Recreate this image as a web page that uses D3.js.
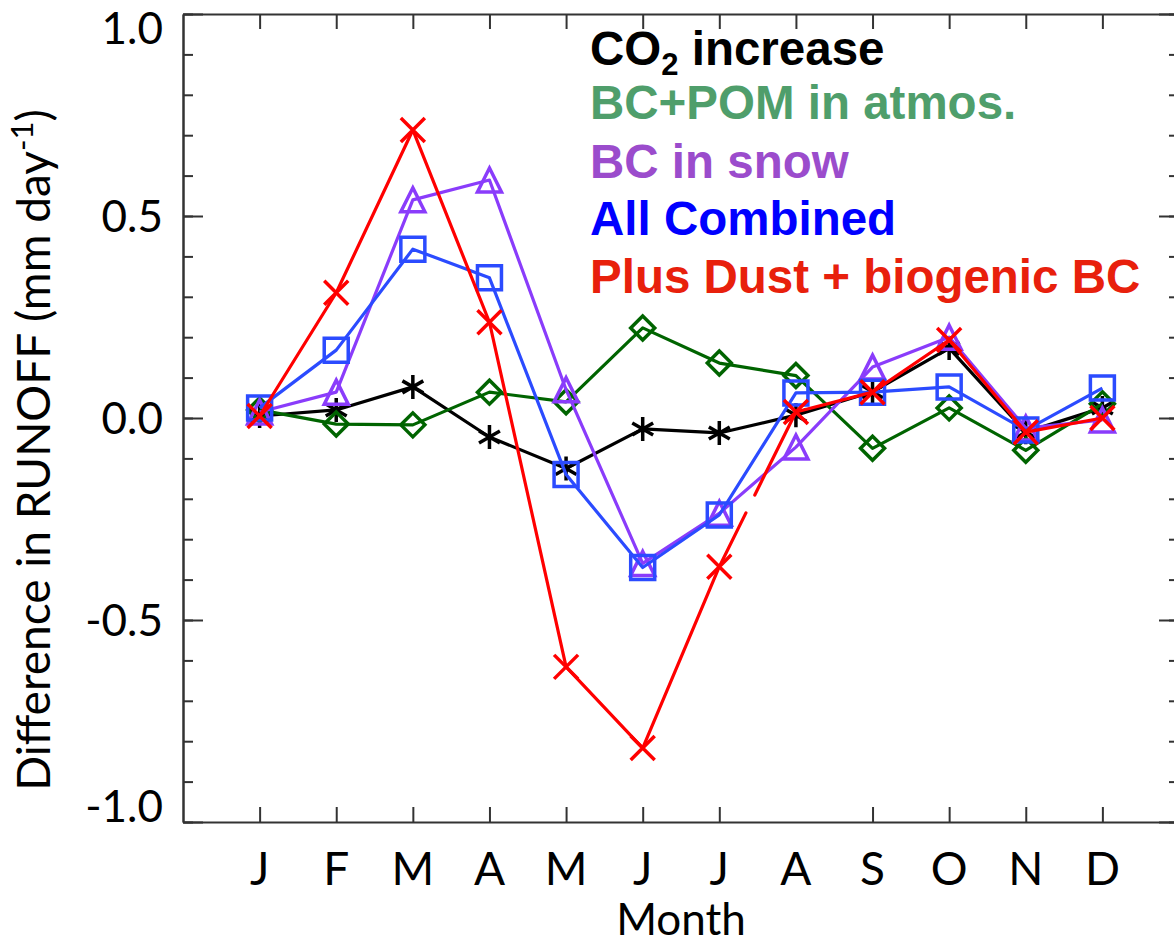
<!DOCTYPE html>
<html>
<head>
<meta charset="utf-8">
<script src="https://cdn.jsdelivr.net/npm/d3@7"></script>
<style>
  body { margin: 0; background: #fff; }
  .lab { font-family: Lato, "Open Sans", sans-serif; fill: #000; }
  .leg { font-family: "Liberation Sans", Arial, sans-serif; font-weight: bold; }
</style>
</head>
<body>
<div id="chart"></div>
<script>
// chart values
var months = ["J", "F", "M", "A", "M", "J", "J", "A", "S", "O", "N", "D"];
var co2 = [0.005, 0.02, 0.077, -0.047, -0.125, -0.027, -0.037, 0.007, 0.065, 0.173, -0.035, 0.025];
var bcpom = [0.02, -0.015, -0.017, 0.064, 0.04, 0.223, 0.136, 0.105, -0.075, 0.025, -0.08, 0.035];
var snow = [0.015, 0.064, 0.54, 0.589, 0.07, -0.36, -0.236, -0.072, 0.126, 0.2, -0.025, -0.005];
var combined = [0.025, 0.168, 0.418, 0.347, -0.14, -0.37, -0.24, 0.062, 0.064, 0.077, -0.03, 0.074];
var dust = [0.005, 0.31, 0.713, 0.237, -0.616, -0.817, -0.368, 0.015, 0.064, 0.193, -0.035, 0.0];
var legendNames = ["CO2 increase", "BC+POM in atmos.", "BC in snow", "All Combined", "Plus Dust + biogenic BC"];
var yMajor = [-1, -0.5, 0, 0.5, 1];

var svgWidth = 1174;
var svgHeight = 943;

var svg = d3.select("#chart")
  .append("svg")
  .attr("width", svgWidth)
  .attr("height", svgHeight);

var xScale = d3.scaleLinear().domain([-1, 12]).range([183, 1179]);
var yScale = d3.scaleLinear().domain([-1, 1]).range([822, 14]);

var x0 = xScale(-1), x1 = xScale(12), y0 = yScale(-1), y1 = yScale(1);
var monthIdx = d3.range(12);
var yMinor = d3.range(-10, 11).map(d => d / 10);

function styleAxis(g) {
  g.selectAll("path, line").attr("stroke", "#333").attr("stroke-width", 2);
  g.selectAll("text").remove();
}

// left axis: minor + major ticks pointing inwards
svg.append("g").attr("transform", `translate(${x0},0)`)
  .call(d3.axisRight(yScale).tickValues(yMinor).tickSize(10).tickSizeOuter(0))
  .call(styleAxis);
svg.append("g").attr("transform", `translate(${x0},0)`)
  .call(d3.axisRight(yScale).tickValues(yMajor).tickSize(20).tickSizeOuter(0))
  .call(styleAxis);
// right axis
svg.append("g").attr("transform", `translate(${x1},0)`)
  .call(d3.axisLeft(yScale).tickValues(yMinor).tickSize(10).tickSizeOuter(0))
  .call(styleAxis);
svg.append("g").attr("transform", `translate(${x1},0)`)
  .call(d3.axisLeft(yScale).tickValues(yMajor).tickSize(20).tickSizeOuter(0))
  .call(styleAxis);
// top axis
svg.append("g").attr("transform", `translate(0,${y1})`)
  .call(d3.axisBottom(xScale).tickValues(monthIdx).tickSize(15).tickSizeOuter(0))
  .call(styleAxis);
// bottom axis (the August tick is missing in the original)
svg.append("g").attr("transform", `translate(0,${y0})`)
  .call(d3.axisTop(xScale).tickValues(monthIdx.filter(i => i !== 7)).tickSize(15).tickSizeOuter(0))
  .call(styleAxis);

// y tick labels; the end labels sit inside the axis range
svg.append("g")
  .selectAll("text")
  .data(yMajor)
  .enter()
  .append("text")
  .attr("class", "lab")
  .attr("x", 163)
  .attr("y", function(d) {
    if (d === 1) return yScale(d) + 30;
    if (d === -1) return yScale(d);
    return yScale(d) + 16;
  })
  .attr("text-anchor", "end")
  .style("font-size", "44px")
  .text(d => d.toFixed(1));

// month labels
svg.append("g")
  .selectAll("text")
  .data(monthIdx)
  .enter()
  .append("text")
  .attr("class", "lab")
  .attr("x", d => xScale(d))
  .attr("y", 885)
  .attr("text-anchor", "middle")
  .style("font-size", "46px")
  .text(d => months[d]);

// axis titles
svg.append("text")
  .attr("class", "lab")
  .attr("x", (x0 + x1) / 2)
  .attr("y", 935)
  .attr("text-anchor", "middle")
  .style("font-size", "44px")
  .text("Month");

var yt = svg.append("text")
  .attr("class", "lab")
  .attr("transform", "translate(50,450) rotate(-90)")
  .attr("text-anchor", "middle")
  .style("font-size", "46px");
yt.append("tspan").text("Difference in RUNOFF (mm day");
yt.append("tspan").attr("dy", -17).style("font-size", "31px").text("-1");
yt.append("tspan").attr("dy", 17).text(")");

// marker shapes
var s = 12;
var symbols = {
  asterisk: `M0,${-s}L0,${s}M${-s * 0.87},${-s / 2}L${s * 0.87},${s / 2}M${-s * 0.87},${s / 2}L${s * 0.87},${-s / 2}`,
  diamond: `M0,${-s}L${s},0L0,${s}L${-s},0Z`,
  triangle: `M0,${-s}L${s},${s}L${-s},${s}Z`,
  square: `M${-s},${-s}L${s},${-s}L${s},${s}L${-s},${s}Z`,
  cross: `M${-s},${-s}L${s},${s}M${-s},${s}L${s},${-s}`
};

var series = [
  { values: co2, color: "#000000", sym: "asterisk" },
  { values: bcpom, color: "#006400", sym: "diamond" },
  { values: snow, color: "#8a3cfb", sym: "triangle" },
  { values: combined, color: "#2b4bff", sym: "square" },
  { values: dust, color: "#ff0000", sym: "cross" }
];

var line = d3.line()
  .x((d, i) => xScale(i))
  .y(d => yScale(d));

series.forEach(function(ser, k) {
  var g = svg.append("g");
  if (k === 4) {
    // red line drawn per segment; one segment has a gap in the original
    d3.pairs(ser.values.map((v, i) => [i, v])).forEach(function(p, i) {
      g.append("path")
        .attr("d", d3.line().x(d => xScale(d[0])).y(d => yScale(d[1]))(p))
        .attr("fill", "none")
        .attr("stroke", ser.color)
        .attr("stroke-width", 3.2)
        .attr("stroke-linecap", "round")
        .attr("stroke-dasharray", i === 6 ? "60,20,300" : null);
    });
  } else {
    g.append("path")
      .attr("d", line(ser.values))
      .attr("fill", "none")
      .attr("stroke", ser.color)
      .attr("stroke-width", 3.2)
      .attr("stroke-linejoin", "round");
  }
  g.selectAll(".mk")
    .data(ser.values)
    .enter()
    .append("path")
    .attr("class", "mk")
    .attr("transform", (d, i) => `translate(${xScale(i)},${yScale(d)})`)
    .attr("d", symbols[ser.sym])
    .attr("fill", "none")
    .attr("stroke", ser.color)
    .attr("stroke-width", 3.5);
});

// legend
var legendColors = ["#000000", "#4f9e6b", "#9b4ccc", "#0000ff", "#e8200c"];
var legendY = [65, 119, 178, 235, 293];
legendNames.forEach(function(name, i) {
  var t = svg.append("text")
    .attr("class", "leg")
    .attr("x", 590)
    .attr("y", legendY[i])
    .attr("fill", legendColors[i])
    .style("font-size", "47.5px");
  if (i === 0) {
    t.append("tspan").text("CO");
    t.append("tspan").attr("dy", 10).style("font-size", "31px").text("2");
    t.append("tspan").attr("dy", -10).text(" increase");
  } else {
    t.text(name);
  }
});
</script>
</body>
</html>
